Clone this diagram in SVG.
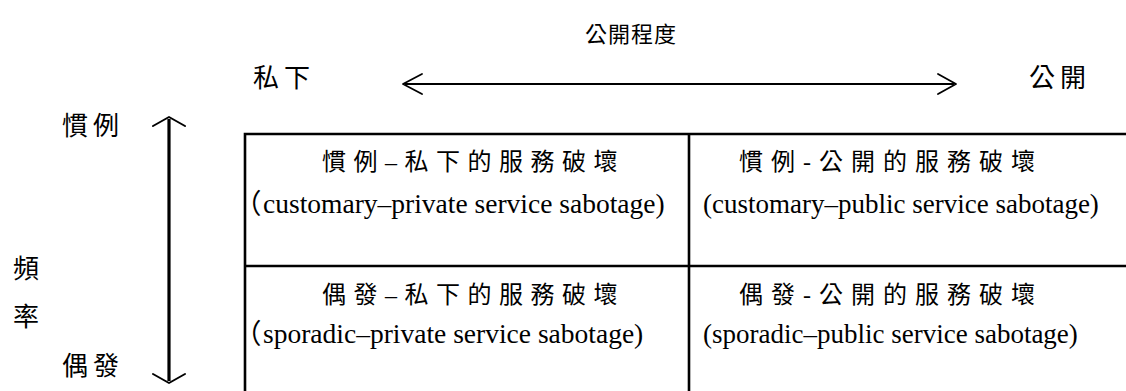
<svg xmlns="http://www.w3.org/2000/svg" width="1126" height="391" viewBox="0 0 1126 391">
<style>
.lbl{font-family:"Liberation Serif","Noto Sans CJK TC",serif;font-size:26px;letter-spacing:5px;fill:#000}
.zh{font-family:"Liberation Serif","Noto Sans CJK TC",serif;font-size:24px;letter-spacing:7.5px;fill:#000}
.en{font-family:"Liberation Serif","Noto Sans CJK TC",serif;font-size:27.5px;fill:#000}
.grid{stroke:#000;stroke-width:2.6;fill:none}
.ah{fill:none;stroke:#000;stroke-linecap:round;stroke-linejoin:round}
</style>
<rect width="1126" height="391" fill="#fff"/>
<g id="labels">
<text class="lbl" x="585" y="42" style="font-size:22px;letter-spacing:1px">公開程度</text>
<text class="lbl" x="253" y="87">私下</text>
<text class="lbl" x="1029" y="87">公開</text>
<text class="lbl" x="62" y="135">慣例</text>
<text class="lbl" x="13" y="278">頻</text>
<text class="lbl" x="13" y="326">率</text>
<text class="lbl" x="62" y="375">偶發</text>
</g>
<g id="connectors">
<line x1="405" y1="84" x2="954" y2="84" stroke="#000" stroke-width="1.8"/>
<polyline class="ah" stroke-width="1.8" points="422,74 403,84 422,94"/>
<polyline class="ah" stroke-width="1.8" points="938,74 956,84 938,94"/>
<line x1="169" y1="119" x2="169" y2="381" stroke="#000" stroke-width="3.2"/>
<polyline class="ah" stroke-width="2" points="153,126 169,117 185,126"/>
<polyline class="ah" stroke-width="2" points="153,374 169,383 185,374"/>
</g>
<g id="table">
<path class="grid" d="M245,392 V134 H1130 M689,134 V392 M245,266 H1130"/>
</g>
<g id="cell-customary-private">
<text class="zh" x="322" y="170">慣例–私下的服務破壞</text>
<text class="en" x="234" y="213">（<tspan x="263">customary–private service sabotage)</tspan></text>
</g>
<g id="cell-customary-public">
<text class="zh" x="739" y="170" style="letter-spacing:8px">慣例-公開的服務破壞</text>
<text class="en" x="703" y="213" style="font-size:27px">(customary–public service sabotage)</text>
</g>
<g id="cell-sporadic-private">
<text class="zh" x="322" y="303">偶發–私下的服務破壞</text>
<text class="en" x="234" y="343">（<tspan x="263">sporadic–private service sabotage)</tspan></text>
</g>
<g id="cell-sporadic-public">
<text class="zh" x="739" y="303" style="letter-spacing:8px">偶發-公開的服務破壞</text>
<text class="en" x="703" y="343" style="font-size:27px">(sporadic–public service sabotage)</text>
</g>
</svg>
